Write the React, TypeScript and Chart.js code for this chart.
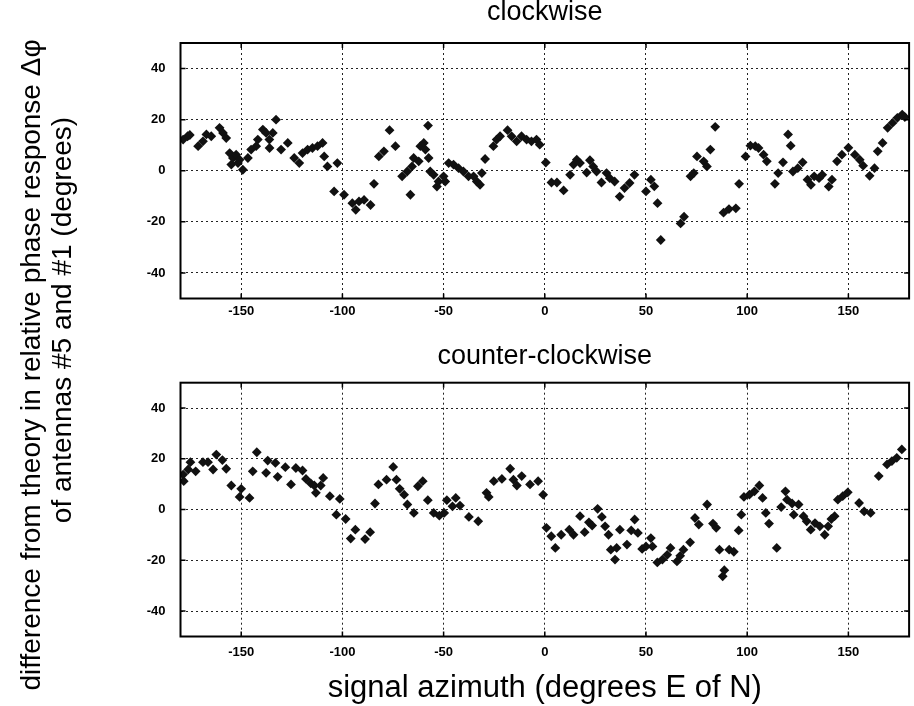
import React, { useEffect, useRef } from "react";
import { Chart, registerables } from "chart.js";

Chart.register(...registerables);

const xTicks = [-150, -100, -50, 0, 50, 100, 150];
const yTicks = [-40, -20, 0, 20, 40];
const panelTitles = ["clockwise", "counter-clockwise"];
const xAxisTitle = "signal azimuth (degrees E of N)";
const yTitleLines = [
  "difference from theory in relative phase response \u0394\u03c6",
  "of antennas #5 and #1 (degrees)",
];

const cwAzimuth = [
  -178.7, -176.5, -175.4, -171.3, -168.9, -167.2, -164.8, -160.7, -159.0, -157.4,
  -155.7, -154.9, -154.1, -152.5, -151.6, -150.8, -149.2, -146.7, -145.1, -142.6,
  -141.8, -139.3, -137.7, -136.1, -136.0, -134.4, -132.8, -130.3, -127.0, -123.8,
  -121.3, -119.7, -117.2, -114.8, -112.3, -109.8, -109.0, -107.4, -104.1, -102.5,
  -99.2, -95.1, -93.4, -91.8, -89.3, -86.1, -84.4, -82.0, -79.5, -76.7,
  -73.8, -70.5, -68.0, -66.4, -65.6, -64.8, -62.3, -61.5, -59.8, -59.0,
  -57.7, -57.4, -56.6, -54.9, -53.3, -52.5, -50.0, -49.2, -47.5, -45.1,
  -42.6, -40.2, -37.7, -35.2, -33.6, -32.0, -31.1, -29.5, -25.4, -23.8,
  -22.1, -18.4, -16.4, -13.9, -11.5, -9.0, -6.6, -4.1, -2.5, 0.5,
  3.3, 6.0, 9.3, 12.5, 14.2, 15.8, 17.4, 20.7, 22.3, 23.9,
  25.6, 28.0, 30.5, 32.1, 34.5, 37.0, 39.4, 41.9, 44.3, 50.0,
  52.4, 54.1, 55.7, 57.3, 67.1, 68.8, 72.0, 73.6, 75.2, 78.5,
  80.1, 81.8, 84.2, 88.3, 91.0, 94.4, 96.0, 99.2, 101.6, 104.0,
  105.6, 108.1, 109.7, 113.7, 115.3, 117.7, 120.2, 121.5, 122.6, 125.0,
  127.4, 129.8, 131.5, 133.1, 135.5, 137.1, 140.3, 141.9, 144.4, 146.8,
  150.0, 153.2, 155.6, 157.3, 160.5, 162.9, 164.5, 166.9, 169.4, 171.8,
  174.2, 176.6, 177.9,
];
const cwDiff = [
  12.2, 13.5, 14.0, 9.6, 11.5, 14.2, 13.5, 16.8, 14.8, 12.8,
  6.9, 2.4, 5.0, 6.3, 3.0, 4.3, 0.4, 5.0, 8.3, 9.6,
  12.2, 16.1, 14.8, 12.2, 8.9, 14.8, 20.0, 8.3, 10.9, 5.0,
  3.0, 6.9, 8.3, 8.9, 9.6, 10.9, 5.6, 1.7, -8.1, 3.0,
  -9.4, -12.7, -15.3, -12.0, -11.4, -13.4, -5.1, 5.6, 7.6, 15.9,
  9.6, -2.2, -0.3, -9.4, 1.7, 5.0, 3.7, 9.6, 10.9, 8.3,
  17.7, 5.0, -0.3, -1.6, -6.2, -4.2, -2.2, -4.2, 3.0, 2.4,
  1.0, -0.3, -2.2, -2.2, -4.2, -5.5, -0.9, 4.6, 9.6, 12.2,
  13.5, 15.9, 13.5, 11.5, 13.5, 12.2, 11.5, 12.2, 10.2, 3.2,
  -4.6, -4.6, -7.7, -1.6, 2.4, 4.3, 3.0, -0.7, 4.1, 1.7,
  -0.3, -4.6, -0.9, -2.9, -4.2, -10.1, -6.8, -4.8, -1.6, -8.1,
  -3.5, -6.1, -12.7, -27.1, -20.6, -18.0, -2.2, -0.9, 5.6, 3.7,
  1.7, 8.3, 17.2, -16.4, -15.0, -14.7, -5.1, 5.6, 9.8, 9.6,
  8.9, 6.3, 3.7, -5.1, -0.9, 3.3, 14.2, 9.8, -0.3, 1.0,
  3.3, -3.5, -5.5, -2.2, -2.9, -1.6, -6.2, -3.5, 3.7, 6.3,
  9.0, 6.3, 4.3, 2.0, -2.0, 1.0, 7.6, 10.9, 16.8, 18.7,
  20.7, 22.0, 21.0,
];

const ccwAzimuth = [
  -178.7, -178.4, -176.2, -175.1, -172.5, -168.9, -166.4, -163.9, -162.3, -159.3,
  -157.4, -154.9, -150.8, -150.0, -145.9, -144.3, -142.3, -137.7, -136.9, -133.1,
  -132.0, -128.2, -125.4, -123.0, -119.7, -118.0, -115.6, -113.9, -113.1, -110.7,
  -109.5, -106.2, -103.0, -101.3, -98.4, -95.9, -93.6, -88.8, -86.3, -83.9,
  -82.2, -78.2, -74.9, -73.3, -71.7, -69.5, -67.9, -64.7, -62.7, -60.3,
  -57.8, -54.9, -52.1, -49.7, -48.4, -45.6, -44.0, -41.9, -37.5, -32.9,
  -28.8, -27.7, -25.2, -21.2, -17.1, -15.5, -13.8, -11.4, -7.3, -3.3,
  -0.8, 0.8, 3.2, 5.2, 8.1, 12.1, 14.2, 17.4, 19.7, 21.8,
  23.4, 26.1, 28.2, 29.8, 31.5, 32.6, 34.7, 35.5, 37.1, 40.6,
  42.7, 44.4, 46.0, 48.1, 50.0, 52.4, 53.2, 55.6, 58.1, 60.5,
  62.1, 65.3, 66.9, 68.5, 71.8, 74.2, 76.1, 80.2, 83.1, 84.7,
  86.3, 87.9, 88.7, 91.1, 93.4, 95.8, 97.1, 98.4, 101.1, 103.6,
  106.0, 107.6, 109.2, 110.8, 114.6, 116.8, 118.9, 119.7, 122.2, 123.0,
  125.4, 127.8, 129.4, 131.4, 133.5, 135.9, 138.3, 140.0, 141.6, 143.2,
  144.8, 147.2, 149.7, 155.3, 157.8, 161.0, 165.0, 169.1, 171.5, 173.9,
  176.4,
];
const ccwDiff = [
  13.8, 11.2, 15.8, 18.7, 15.1, 18.7, 18.7, 15.8, 21.7, 19.5,
  16.1, 9.5, 5.0, 8.2, 4.6, 15.1, 22.6, 14.5, 19.3, 18.4,
  12.9, 16.7, 9.9, 16.4, 15.4, 12.1, 10.3, 9.5, 6.6, 9.5,
  12.5, 5.3, -2.0, 4.2, -3.7, -11.4, -7.9, -11.6, -8.9, 2.4,
  9.9, 11.8, 16.8, 11.8, 8.2, 5.9, 2.0, -1.3, 9.2, 11.2,
  3.7, -1.3, -2.4, -1.3, 3.7, 1.3, 4.6, 1.6, -2.9, -4.6,
  6.6, 5.0, 11.2, 12.1, 16.1, 11.8, 9.5, 13.2, 9.9, 11.2,
  5.9, -7.2, -10.5, -15.1, -9.9, -7.9, -9.9, -2.6, -8.9, -5.0,
  -6.3, 0.3, -2.9, -6.6, -9.9, -15.8, -19.7, -15.1, -7.9, -13.8,
  -8.2, -3.9, -9.2, -15.5, -14.5, -11.2, -14.5, -20.8, -19.7, -17.8,
  -15.1, -20.4, -18.2, -15.8, -12.9, -3.3, -5.9, 2.0, -5.5, -7.2,
  -15.8, -26.3, -23.9, -15.8, -16.6, -8.2, -2.0, 5.0, 5.9, 7.2,
  9.5, 4.6, -1.3, -5.5, -15.1, 1.0, 7.2, 3.9, 2.4, -2.0,
  2.0, -2.6, -4.6, -7.9, -5.3, -6.6, -9.9, -6.6, -3.7, -2.6,
  3.9, 5.3, 6.8, 2.6, -0.7, -1.3, 13.2, 17.8, 19.1, 20.4,
  23.7,
];

const FONT = '"Liberation Sans", Arial, Helvetica, sans-serif';

const framePlugin = {
  id: "frameBox",
  afterDatasetsDraw(chart: any) {
    const { ctx, chartArea, scales } = chart;
    const { left, right, top, bottom } = chartArea;
    ctx.save();
    ctx.strokeStyle = "#000";
    ctx.lineWidth = 1.5;
    ctx.beginPath();
    for (const v of xTicks) {
      const px = scales.x.getPixelForValue(v);
      ctx.moveTo(px, top);
      ctx.lineTo(px, top + 5);
      ctx.moveTo(px, bottom);
      ctx.lineTo(px, bottom - 5);
    }
    for (const v of yTicks) {
      const py = scales.y.getPixelForValue(v);
      ctx.moveTo(left, py);
      ctx.lineTo(left + 5, py);
      ctx.moveTo(right, py);
      ctx.lineTo(right - 5, py);
    }
    ctx.stroke();
    ctx.lineWidth = 2;
    ctx.strokeRect(left, top, right - left, bottom - top);
    ctx.restore();
  },
};

const yTitlePlugin = {
  id: "sharedYTitle",
  afterDraw(chart: any) {
    const ctx = chart.ctx;
    const places = [
      [32, 365],
      [63, 320],
    ];
    ctx.save();
    ctx.fillStyle = "#000";
    ctx.font = `28px ${FONT}`;
    ctx.textAlign = "center";
    ctx.textBaseline = "middle";
    yTitleLines.forEach((line, i) => {
      ctx.save();
      ctx.translate(places[i][0], places[i][1]);
      ctx.rotate(-Math.PI / 2);
      ctx.fillText(line, 0, 0);
      ctx.restore();
    });
    ctx.restore();
  },
};

function buildConfig(
  az: number[],
  diff: number[],
  title: string,
  titlePad: { top: number; bottom: number },
  xHeight: number,
  bottomPad: number,
  tickPadX: number,
  withXTitle: boolean,
  extraPlugins: any[]
): any {
  const tickFont = { family: FONT, size: 13, weight: "bold" as const };
  return {
    type: "scatter",
    data: {
      datasets: [
        {
          data: az.map((x, i) => ({ x, y: diff[i] })),
          pointStyle: "rectRot",
          pointRadius: 4.9,
          backgroundColor: "#111",
          borderColor: "#111",
          borderWidth: 0,
        },
      ],
    },
    plugins: [framePlugin, ...extraPlugins],
    options: {
      animation: false,
      responsive: false,
      maintainAspectRatio: false,
      events: [],
      layout: { padding: { left: 0, right: 1.4, top: 0, bottom: bottomPad } },
      plugins: {
        legend: { display: false },
        tooltip: { enabled: false },
        title: {
          display: true,
          fullSize: false,
          text: title,
          color: "#000",
          font: { family: FONT, size: 27, weight: "normal", lineHeight: 0.9 },
          padding: titlePad,
        },
      },
      scales: {
        x: {
          type: "linear",
          min: -180,
          max: 180,
          afterBuildTicks: (s: any) => {
            s.ticks = xTicks.map((v) => ({ value: v }));
          },
          afterFit: (s: any) => {
            s.height = xHeight;
          },
          ticks: {
            font: tickFont,
            color: "#000",
            padding: tickPadX,
            maxRotation: 0,
            autoSkip: false,
          },
          grid: { color: "#222", lineWidth: 1, drawTicks: false },
          border: { display: false, dash: [2, 3] },
          title: withXTitle
            ? {
                display: true,
                text: xAxisTitle,
                color: "#000",
                font: { family: FONT, size: 31, weight: "normal", lineHeight: 1 },
                padding: { top: 0, bottom: 2.5 },
              }
            : { display: false },
        },
        y: {
          type: "linear",
          min: -50,
          max: 50,
          afterBuildTicks: (s: any) => {
            s.ticks = yTicks.map((v) => ({ value: v }));
          },
          afterFit: (s: any) => {
            s.width = 180.5;
          },
          ticks: { font: tickFont, color: "#000", padding: 15, autoSkip: false },
          grid: { color: "#222", lineWidth: 1, drawTicks: false },
          border: { display: false, dash: [2, 3] },
        },
      },
    },
  };
}

export default function App() {
  const topRef = useRef<HTMLCanvasElement | null>(null);
  const botRef = useRef<HTMLCanvasElement | null>(null);

  useEffect(() => {
    if (!topRef.current || !botRef.current) return;
    const top = new Chart(
      topRef.current,
      buildConfig(cwAzimuth, cwDiff, panelTitles[0], { top: 0, bottom: 18.7 }, 36.5, 371, 5, false, [yTitlePlugin])
    );
    const bot = new Chart(
      botRef.current,
      buildConfig(ccwAzimuth, ccwDiff, panelTitles[1], { top: 9.85, bottom: 13.55 }, 69.5, 0, 8, true, [])
    );
    return () => {
      top.destroy();
      bot.destroy();
    };
  }, []);

  return (
    <div style={{ position: "absolute", left: 0, top: 0, width: 914, height: 706, background: "#fff" }}>
      <canvas
        ref={topRef}
        width={914}
        height={706}
        style={{ position: "absolute", left: 0, top: 0, width: 914, height: 706 }}
      />
      <canvas
        ref={botRef}
        width={914}
        height={371}
        style={{ position: "absolute", left: 0, top: 335, width: 914, height: 371 }}
      />
    </div>
  );
}
